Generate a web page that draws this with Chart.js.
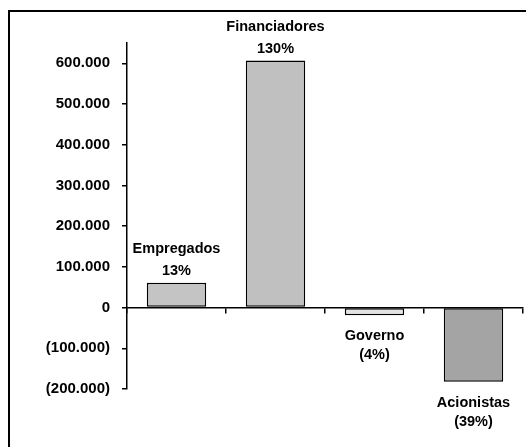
<!DOCTYPE html>
<html>
<head>
<meta charset="utf-8">
<script src="https://cdn.jsdelivr.net/npm/chart.js@4/dist/chart.umd.min.js"></script>
<style>
    html, body { margin: 0; padding: 0; background: #fff; }
    #wrap { position: absolute; left: 0; top: 0; width: 526px; height: 447px; }
    #frame {
        position: absolute; left: 8px; top: 10px; width: 520px; height: 440px;
        border-top: 2px solid #000; border-left: 2px solid #000;
        pointer-events: none;
    }
</style>
</head>
<body>
<div id="wrap"><canvas id="chart"></canvas></div>
<div id="frame"></div>
<script>
// ── Value added distribution (values in R$, percentages of total) ───────────

var categories = ['Empregados', 'Financiadores', 'Governo', 'Acionistas'];
var values     = [61000, 607000, -19000, -182000];
var pctLabels  = ['13%', '130%', '(4%)', '(39%)'];
var barColors  = ['#c4c4c4', '#c0c0c0', '#e4e4e4', '#a4a4a4'];
var yTicks     = [-200000, -100000, 0, 100000, 200000, 300000, 400000, 500000, 600000];

var FONT = '"Liberation Sans", Arial, sans-serif';

function fmtThousands(v) {
    return String(Math.round(v)).replace(/\B(?=(\d{3})+(?!\d))/g, '.');
}

// Draws category name + percentage next to each bar (above if positive, below if negative)
var barLabelsPlugin = {
    id: 'barLabels',
    afterDatasetsDraw: function (chart) {
        var ctx  = chart.ctx;
        var meta = chart.getDatasetMeta(0);
        ctx.save();
        ctx.font         = 'bold 14.5px ' + FONT;
        ctx.fillStyle    = '#000';
        ctx.textAlign    = 'center';
        ctx.textBaseline = 'middle';
        meta.data.forEach(function (bar, i) {
            if (values[i] >= 0) {
                ctx.fillText(categories[i], bar.x, bar.y - 34);
                ctx.fillText(pctLabels[i],  bar.x, bar.y - 12);
            } else {
                ctx.fillText(categories[i], bar.x, bar.y + 21);
                ctx.fillText(pctLabels[i],  bar.x, bar.y + 40);
            }
        });
        ctx.restore();
    }
};

/* global Chart */
new Chart(document.getElementById('chart'), {
    type: 'bar',
    data: {
        labels: categories,
        datasets: [{
            data: values,
            backgroundColor: barColors,
            borderColor: '#000',
            borderWidth: 1.5,
            borderSkipped: false,
            barPercentage: 0.6,
            categoryPercentage: 1.0
        }]
    },
    options: {
        responsive: true,
        maintainAspectRatio: false,
        animation: false,
        layout: { padding: { left: 10, right: 3, top: 43, bottom: 58 } },
        plugins: {
            legend:  { display: false },
            tooltip: { enabled: false }
        },
        scales: {
            x: {
                type: 'category',
                position: { y: 0 },
                offset: true,
                grid: {
                    offset: true,
                    drawOnChartArea: false,
                    tickLength: 5,
                    tickColor: '#000',
                    lineWidth: 1.5
                },
                border: { color: '#000', width: 1.5 },
                ticks: { display: false }
            },
            y: {
                min: -200000,
                max: 650000,
                afterFit: function (scale) { scale.width = 117; },
                // ticks only at round hundreds of thousands (not at the 650k top)
                afterBuildTicks: function (scale) {
                    scale.ticks = yTicks.map(function (v) { return { value: v }; });
                },
                grid: {
                    drawOnChartArea: false,
                    tickLength: 5,
                    tickColor: '#000',
                    lineWidth: 1.5
                },
                border: { color: '#000', width: 1.5 },
                ticks: {
                    autoSkip: false,
                    padding: 12,
                    color: '#000',
                    font: { family: FONT, size: 15, weight: 'bold' },
                    callback: function (v) {
                        if (v === 0) return '0';
                        return v < 0 ? '(' + fmtThousands(-v) + ')' : fmtThousands(v);
                    }
                }
            }
        }
    },
    plugins: [barLabelsPlugin]
});
</script>
</body>
</html>
